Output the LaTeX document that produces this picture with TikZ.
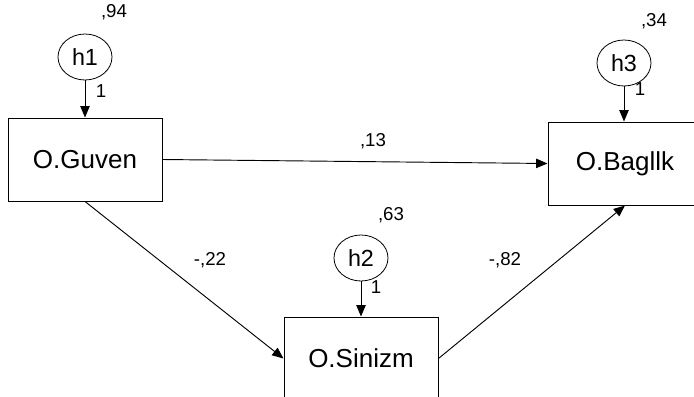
\documentclass[tikz,border=0pt]{standalone}
\usepackage{fontspec}
\setmainfont{Liberation Sans}
\usetikzlibrary{arrows.meta}
\usetikzlibrary{shapes.geometric}

\tikzset{
  varbox/.style={draw, line width=0.75pt, minimum width=115.5pt, minimum height=62.25pt,
    inner sep=0pt, font=\fontsize{19.5}{22}\selectfont},
  errnode/.style={draw, ellipse, line width=0.6pt, minimum width=40.5pt, minimum height=34.5pt,
    inner sep=0pt, font=\fontsize{17.5}{20}\selectfont},
  coef/.style={inner sep=0pt, font=\fontsize{14}{16}\selectfont},
  path/.style={line width=0.7pt, -{Triangle[length=8.5pt,width=7pt]}}
}

\begin{document}
\begin{tikzpicture}[x=0.75pt, y=-0.75pt]
  \clip (0,0) rectangle (694,397);

  % observed variables
  \node[varbox] (guven) at (85,159.5) {O.Guven};
  \node[varbox] (bagllk) at (625,163.5) {O.Bagllk};
  \node[varbox] (sinizm) at (361,358.5) {O.Sinizm};

  % error terms
  \node[errnode] (h1) at (85,57) {h1};
  \node[errnode] (h2) at (361,258) {h2};
  \node[errnode] (h3) at (624,63) {h3};

  \draw[path] (h1) -- (guven);
  \draw[path] (h2) -- (sinizm);
  \draw[path] (h3) -- (bagllk.north -| h3);

  \draw[path] (guven.east) -- (bagllk.west);
  \draw[path] (guven.south) -- (sinizm.west);
  \draw[path] (sinizm.east) -- (bagllk.south);

  % estimates
  \node[coef] (v1) at (114,12) {,94};
  \node[coef] (v2) at (391,215) {,63};
  \node[coef] (v3) at (654,21) {,34};
  \node[coef] (f1) at (101,91) {1};
  \node[coef] (f2) at (376,287) {1};
  \node[coef] (f3) at (640,89) {1};
  \node[coef] (b1) at (373,141) {,13};
  \node[coef] (b2) at (210,260) {-,22};
  \node[coef] (b3) at (505,260) {-,82};
\end{tikzpicture}
\end{document}
